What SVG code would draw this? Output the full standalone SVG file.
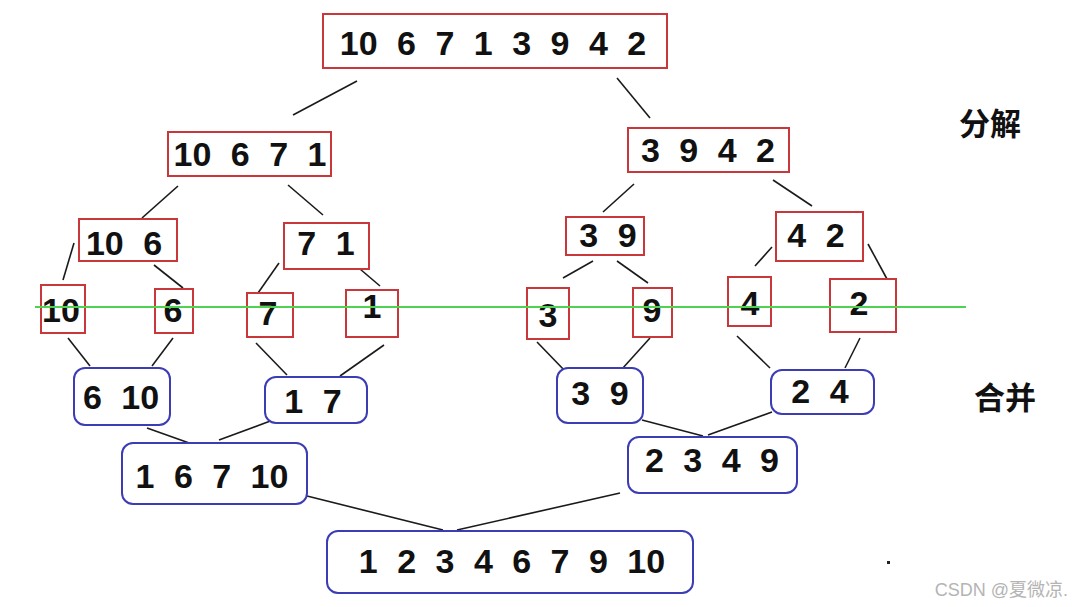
<svg xmlns="http://www.w3.org/2000/svg" width="1073" height="607" viewBox="0 0 1073 607">
<style>
.r{fill:#fff;stroke:#c8383a;stroke-width:2}
.b{fill:#fff;stroke:#3c3cb4;stroke-width:2}
.t{font-family:"Liberation Sans",Arial,sans-serif;font-weight:bold;font-size:34px;fill:#111;text-anchor:middle;word-spacing:10px}
.c line{stroke:#1a1a1a;stroke-width:1.6}
.lab{font-family:"Noto Sans CJK SC","Noto Sans",sans-serif;font-weight:bold;font-size:31px;fill:#111;text-anchor:middle}
</style>
<rect width="1073" height="607" fill="#fff"/>
<g id="connectors" class="c">
<line x1="357" y1="81" x2="293" y2="115"/>
<line x1="617" y1="78" x2="650" y2="118"/>
<line x1="178" y1="186" x2="142" y2="218"/>
<line x1="288" y1="185" x2="323" y2="215"/>
<line x1="634" y1="184" x2="603" y2="212"/>
<line x1="773" y1="180" x2="812" y2="206"/>
<line x1="74" y1="243" x2="63" y2="280"/>
<line x1="154" y1="265" x2="183" y2="288"/>
<line x1="279" y1="263" x2="258" y2="293"/>
<line x1="360" y1="269" x2="380" y2="286"/>
<line x1="593" y1="261" x2="563" y2="278"/>
<line x1="617" y1="261" x2="648" y2="283"/>
<line x1="772" y1="247" x2="755" y2="266"/>
<line x1="868" y1="244" x2="887" y2="279"/>
<line x1="68" y1="338" x2="90" y2="366"/>
<line x1="173" y1="338" x2="152" y2="366"/>
<line x1="256" y1="343" x2="287" y2="375"/>
<line x1="384" y1="345" x2="340" y2="376"/>
<line x1="537" y1="342" x2="566" y2="372"/>
<line x1="650" y1="338" x2="622" y2="369"/>
<line x1="737" y1="336" x2="770" y2="368"/>
<line x1="860" y1="338" x2="845" y2="368"/>
<line x1="147" y1="428" x2="192" y2="444"/>
<line x1="273" y1="420" x2="219" y2="440"/>
<line x1="642" y1="420" x2="703" y2="436"/>
<line x1="772" y1="412" x2="708" y2="435"/>
<line x1="307" y1="496" x2="443" y2="530"/>
<line x1="620" y1="493" x2="457" y2="530"/>
</g>
<g id="n-top"><rect class="r" x="323" y="14" width="344" height="54"/><text class="t" x="493" y="55">10 6 7 1 3 9 4 2</text></g>
<g id="n-10671"><rect class="r" x="168" y="132" width="163" height="44"/><text class="t" x="250" y="166">10 6 7 1</text></g>
<g id="n-3942"><rect class="r" x="628" y="128" width="161" height="44"/><text class="t" x="708" y="162">3 9 4 2</text></g>
<g id="n-106"><rect class="r" x="79" y="219" width="98" height="42"/><text class="t" x="124" y="255">10 6</text></g>
<g id="n-71"><rect class="r" x="284" y="223" width="85" height="46"/><text class="t" x="326" y="255">7 1</text></g>
<g id="n-39"><rect class="r" x="566" y="217" width="78" height="38"/><text class="t" x="608" y="247">3 9</text></g>
<g id="n-42"><rect class="r" x="776" y="212" width="87" height="49"/><text class="t" x="816" y="247">4 2</text></g>
<g id="n-s10"><rect class="r" x="41" y="285" width="44" height="48"/><text class="t" x="61" y="322">10</text></g>
<g id="n-s6"><rect class="r" x="155" y="289" width="38" height="44"/><text class="t" x="173" y="322">6</text></g>
<g id="n-s7"><rect class="r" x="247" y="293" width="46" height="44"/><text class="t" x="268" y="325">7</text></g>
<g id="n-s1"><rect class="r" x="346" y="290" width="52" height="47"/><text class="t" x="372" y="318">1</text></g>
<g id="n-s3"><rect class="r" x="527" y="288" width="42" height="51"/><text class="t" x="548" y="327">3</text></g>
<g id="n-s9"><rect class="r" x="633" y="288" width="39" height="49"/><text class="t" x="652" y="322">9</text></g>
<g id="n-s4"><rect class="r" x="728" y="277" width="43" height="49"/><text class="t" x="750" y="315">4</text></g>
<g id="n-s2"><rect class="r" x="830" y="279" width="66" height="53"/><text class="t" x="859" y="315">2</text></g>
<line id="divider" x1="35" y1="307" x2="966" y2="307" stroke="#4fd24f" stroke-width="2"/>
<g id="m-610"><rect class="b" x="74" y="368" width="96" height="57" rx="11"/><text class="t" x="121" y="409">6 10</text></g>
<g id="m-17"><rect class="b" x="265" y="377" width="102" height="46" rx="11"/><text class="t" x="313" y="413">1 7</text></g>
<g id="m-39"><rect class="b" x="557" y="368" width="86" height="55" rx="11"/><text class="t" x="600" y="405">3 9</text></g>
<g id="m-24"><rect class="b" x="771" y="370" width="103" height="44" rx="11"/><text class="t" x="820" y="403">2 4</text></g>
<g id="m-16710"><rect class="b" x="122" y="443" width="185" height="61" rx="11"/><text class="t" x="212" y="488">1 6 7 10</text></g>
<g id="m-2349"><rect class="b" x="628" y="437" width="169" height="56" rx="11"/><text class="t" x="712" y="472">2 3 4 9</text></g>
<g id="m-final"><rect class="b" x="327" y="531" width="366" height="62" rx="11"/><text class="t" x="512" y="573">1 2 3 4 6 7 9 10</text></g>
<text class="lab" x="990" y="135">分解</text>
<text class="lab" x="1005" y="409">合并</text>
<rect x="887" y="561" width="3" height="3" fill="#222"/>
<text x="1068" y="596" font-family="Liberation Sans,'Noto Sans CJK SC',sans-serif" font-size="18" fill="#b4b4b4" text-anchor="end">CSDN @夏微凉.</text>
</svg>
